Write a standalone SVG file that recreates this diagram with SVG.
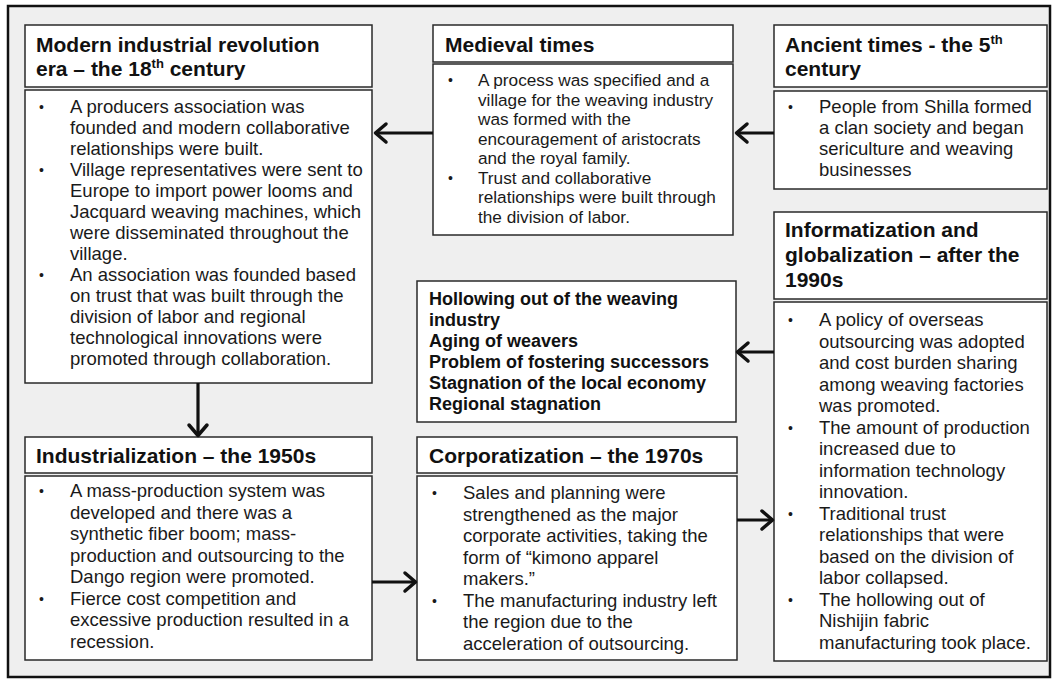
<svg xmlns="http://www.w3.org/2000/svg" width="1056" height="680" viewBox="0 0 1056 680">
<style>
.box{fill:#ffffff;stroke:#2a2a2a;stroke-width:1.5}
.ttl{font-family:"Liberation Sans",Arial,sans-serif;font-weight:bold;font-size:21px;fill:#111}
.txt{font-family:"Liberation Sans",Arial,sans-serif;font-size:18.5px;fill:#1a1a1a}
.sm{font-size:17.2px}
.bul{font-size:14px}
.bld{font-family:"Liberation Sans",Arial,sans-serif;font-weight:bold;font-size:18px;fill:#111}
.con{fill:none;stroke:#111;stroke-width:3.2}
</style>
<defs>
<marker id="ah" markerUnits="userSpaceOnUse" markerWidth="30" markerHeight="30" viewBox="-15 -15 30 30" refX="0" refY="0" orient="auto" overflow="visible">
<path d="M-11,-9 L-0.5,0 L-11,9" fill="none" stroke="#111" stroke-width="3.5" stroke-linecap="round" stroke-linejoin="round"/>
</marker>
</defs>
<rect x="0" y="0" width="1056" height="680" fill="#ffffff"/>
<rect x="8" y="6" width="1042" height="671" fill="#efefef" stroke="#111" stroke-width="2.5"/>

<g id="modern">
<rect class="box" x="25" y="25" width="347" height="62"/>
<text class="ttl" x="36" y="52">Modern industrial revolution</text>
<text class="ttl" x="36" y="76">era – the 18<tspan font-size="13" dy="-8">th</tspan><tspan dy="8"> century</tspan></text>
<rect class="box" x="25" y="90" width="347" height="293"/>
<g class="txt">
<text class="bul" x="39" y="112">•</text><text x="70" y="113">A producers association was</text>
<text x="70" y="134">founded and modern collaborative</text>
<text x="70" y="155">relationships were built.</text>
<text class="bul" x="39" y="175">•</text><text x="70" y="176">Village representatives were sent to</text>
<text x="70" y="197">Europe to import power looms and</text>
<text x="70" y="218">Jacquard weaving machines, which</text>
<text x="70" y="239">were disseminated throughout the</text>
<text x="70" y="260">village.</text>
<text class="bul" x="39" y="280">•</text><text x="70" y="281">An association was founded based</text>
<text x="70" y="302">on trust that was built through the</text>
<text x="70" y="323">division of labor and regional</text>
<text x="70" y="344">technological innovations were</text>
<text x="70" y="365">promoted through collaboration.</text>
</g>
</g>

<g id="medieval">
<rect class="box" x="433" y="25" width="300" height="37"/>
<text class="ttl" x="445" y="52">Medieval times</text>
<rect class="box" x="433" y="64" width="300" height="171"/>
<g class="txt sm">
<text class="bul" x="448" y="85">•</text><text x="478" y="86">A process was specified and a</text>
<text x="478" y="105.5">village for the weaving industry</text>
<text x="478" y="125">was formed with the</text>
<text x="478" y="144.5">encouragement of aristocrats</text>
<text x="478" y="164">and the royal family.</text>
<text class="bul" x="448" y="182.5">•</text><text x="478" y="183.5">Trust and collaborative</text>
<text x="478" y="203">relationships were built through</text>
<text x="478" y="222.5">the division of labor.</text>
</g>
</g>

<g id="ancient">
<rect class="box" x="774" y="25" width="273" height="62"/>
<text class="ttl" x="785" y="52">Ancient times - the 5<tspan font-size="13" dy="-8">th</tspan></text>
<text class="ttl" x="785" y="76">century</text>
<rect class="box" x="774" y="91" width="273" height="98"/>
<g class="txt">
<text class="bul" x="788" y="112">•</text><text x="819" y="113">People from Shilla formed</text>
<text x="819" y="134">a clan society and began</text>
<text x="819" y="155">sericulture and weaving</text>
<text x="819" y="176">businesses</text>
</g>
</g>

<g id="informatization">
<rect class="box" x="774" y="212" width="273" height="87"/>
<text class="ttl" x="785" y="237">Informatization and</text>
<text class="ttl" x="785" y="262">globalization – after the</text>
<text class="ttl" x="785" y="287">1990s</text>
<rect class="box" x="774" y="302" width="273" height="359"/>
<g class="txt">
<text class="bul" x="788" y="325">•</text><text x="819" y="326">A policy of overseas</text>
<text x="819" y="347.5">outsourcing was adopted</text>
<text x="819" y="369">and cost burden sharing</text>
<text x="819" y="390.5">among weaving factories</text>
<text x="819" y="412">was promoted.</text>
<text class="bul" x="788" y="432.5">•</text><text x="819" y="433.5">The amount of production</text>
<text x="819" y="455">increased due to</text>
<text x="819" y="476.5">information technology</text>
<text x="819" y="498">innovation.</text>
<text class="bul" x="788" y="518.5">•</text><text x="819" y="519.5">Traditional trust</text>
<text x="819" y="541">relationships that were</text>
<text x="819" y="562.5">based on the division of</text>
<text x="819" y="584">labor collapsed.</text>
<text class="bul" x="788" y="604.5">•</text><text x="819" y="605.5">The hollowing out of</text>
<text x="819" y="627">Nishijin fabric</text>
<text x="819" y="648.5">manufacturing took place.</text>
</g>
</g>

<g id="hollowing">
<rect class="box" x="417" y="281" width="319" height="141"/>
<g class="bld">
<text x="429" y="305">Hollowing out of the weaving</text>
<text x="429" y="326">industry</text>
<text x="429" y="347">Aging of weavers</text>
<text x="429" y="368">Problem of fostering successors</text>
<text x="429" y="389">Stagnation of the local economy</text>
<text x="429" y="410">Regional stagnation</text>
</g>
</g>

<g id="corporatization">
<rect class="box" x="417" y="437" width="320" height="36"/>
<text class="ttl" x="429" y="463">Corporatization – the 1970s</text>
<rect class="box" x="417" y="476" width="320" height="184"/>
<g class="txt">
<text class="bul" x="432" y="498">•</text><text x="463" y="499">Sales and planning were</text>
<text x="463" y="520.5">strengthened as the major</text>
<text x="463" y="542">corporate activities, taking the</text>
<text x="463" y="563.5">form of “kimono apparel</text>
<text x="463" y="585">makers.”</text>
<text class="bul" x="432" y="605.5">•</text><text x="463" y="606.5">The manufacturing industry left</text>
<text x="463" y="628">the region due to the</text>
<text x="463" y="649.5">acceleration of outsourcing.</text>
</g>
</g>

<g id="industrialization">
<rect class="box" x="25" y="437" width="347" height="36"/>
<text class="ttl" x="36" y="463">Industrialization – the 1950s</text>
<rect class="box" x="25" y="476" width="347" height="184"/>
<g class="txt">
<text class="bul" x="39" y="496">•</text><text x="70" y="497">A mass-production system was</text>
<text x="70" y="518.5">developed and there was a</text>
<text x="70" y="540">synthetic fiber boom; mass-</text>
<text x="70" y="561.5">production and outsourcing to the</text>
<text x="70" y="583">Dango region were promoted.</text>
<text class="bul" x="39" y="603.5">•</text><text x="70" y="604.5">Fierce cost competition and</text>
<text x="70" y="626">excessive production resulted in a</text>
<text x="70" y="647.5">recession.</text>
</g>
</g>

<g id="connectors">
<line class="con" x1="774" y1="133" x2="736" y2="133" marker-end="url(#ah)"/>
<line class="con" x1="433" y1="133" x2="375" y2="133" marker-end="url(#ah)"/>
<line class="con" x1="198" y1="383" x2="198" y2="436" marker-end="url(#ah)"/>
<line class="con" x1="372" y1="582" x2="416" y2="582" marker-end="url(#ah)"/>
<line class="con" x1="737" y1="520" x2="773" y2="520" marker-end="url(#ah)"/>
<line class="con" x1="774" y1="352" x2="737" y2="352" marker-end="url(#ah)"/>
</g>
</svg>
